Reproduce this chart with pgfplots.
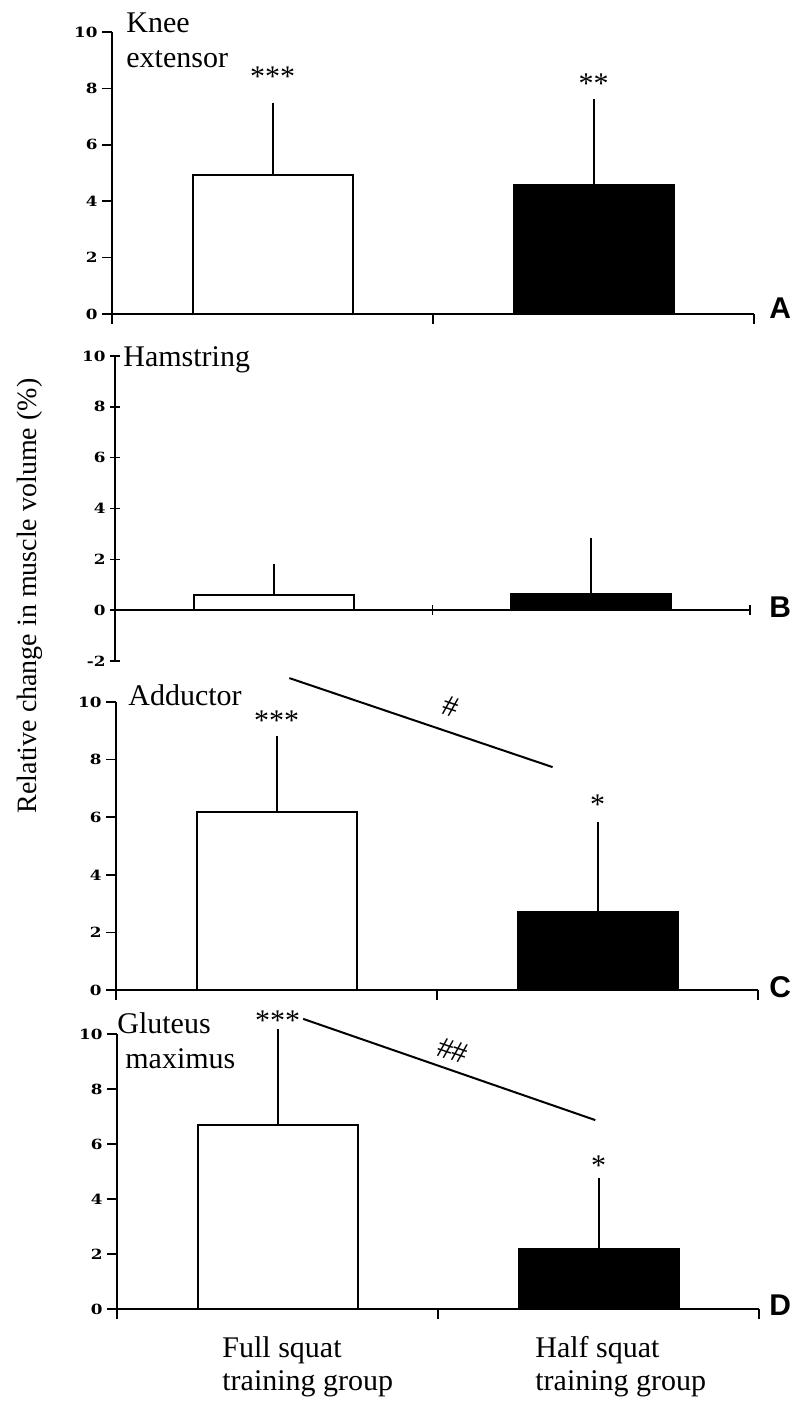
\documentclass[border=0pt]{standalone}
\usepackage{fontspec}
\setmainfont{Liberation Serif}
\newfontfamily\sansfont{Liberation Sans}
\newfontfamily\tickfont{DejaVu Serif}
\usepackage{graphicx}
\usepackage{pgfplots}
\pgfplotsset{compat=1.18}

\pgfplotsset{
 panel/.style={
  scale only axis, width=321pt,
  xmin=0, xmax=2,
  axis lines=left,
  axis line style={-, line width=1pt},
  every inner x axis line/.append style={-},
  every outer x axis line/.append style={-},
  every inner y axis line/.append style={-},
  every outer y axis line/.append style={-},
  xtick={0,1,2}, xticklabels={},
  tick align=outside, major tick length=5pt,
  tick style={line width=0.8pt, black},
  ytick={0,2,...,10},
  /pgf/number format/assume math mode=true,
  yticklabel style={font=\tickfont\bfseries\fontsize{7}{8}\selectfont, inner xsep=2pt},
  yticklabel={\scalebox{1.2}[1]{\pgfmathprintnumber{\tick}}},
  clip=false,
 },
 whitebar/.style={ybar, bar width=80pt, bar shift=0pt, fill=white, draw=black, line width=1pt,
   error bars/.cd, y dir=plus, y explicit, error mark=none, error bar style={line width=1pt}},
 blackbar/.style={ybar, bar width=80pt, bar shift=0pt, fill=black, draw=black, line width=1pt,
   error bars/.cd, y dir=plus, y explicit, error mark=none, error bar style={line width=1pt}},
}
\tikzset{sigtxt/.style={font=\fontsize{15}{15}\selectfont}}

\begin{document}
\begin{tikzpicture}
\useasboundingbox (0,0) rectangle (401.5pt,-701pt);

% Panel A
\begin{axis}[panel, at={(56pt,-157pt)}, anchor=south west, height=141pt, ymin=0, ymax=10]
\addplot[whitebar] coordinates {(0.5,4.92) +- (0,2.55)};
\addplot[blackbar] coordinates {(1.5,4.56) +- (0,3.06)};
\node[sigtxt] at (axis cs:0.5,8.4) {***};
\node[sigtxt] at (axis cs:1.5,8.15) {**};
\end{axis}

% Panel B
\begin{axis}[panel, at={(57.5pt,-330.5pt)}, anchor=south west, width=317.5pt, height=152.5pt, ymin=-2, ymax=10,
  axis x line=middle, axis y line=left, ytick={-2,0,...,10},
  x axis line style={-}, y axis line style={-}]
\addplot[whitebar] coordinates {(0.5,0.59) +- (0,1.21)};
\addplot[blackbar] coordinates {(1.5,0.63) +- (0,2.2)};
\end{axis}

% Panel C
\begin{axis}[panel, at={(58pt,-495pt)}, anchor=south west, height=144pt, ymin=0, ymax=10]
\addplot[whitebar] coordinates {(0.5,6.19) +- (0,2.63)};
\addplot[blackbar] coordinates {(1.5,2.7) +- (0,3.13)};
\addplot[sharp plot, no marks, black, line width=1pt] coordinates {(0.54,10.83) (1.36,7.74)};
\node[sigtxt] at (axis cs:0.5,9.35) {***};
\node[sigtxt] at (axis cs:1.5,6.45) {*};
\node[sigtxt, rotate=-18.7, inner sep=0pt] at (axis cs:1.044,9.85) {\#};
\end{axis}

% Panel D
\begin{axis}[panel, at={(58.5pt,-654.5pt)}, anchor=south west, height=137.5pt, ymin=0, ymax=10]
\addplot[whitebar] coordinates {(0.5,6.69) +- (0,3.49)};
\addplot[blackbar] coordinates {(1.5,2.18) +- (0,2.58)};
\addplot[sharp plot, no marks, black, line width=1pt] coordinates {(0.58,10.55) (1.49,6.87)};
\node[sigtxt] at (axis cs:0.5,10.5) {***};
\node[sigtxt] at (axis cs:1.5,5.2) {*};
\node[sigtxt, rotate=-18.7, inner sep=0pt] at (axis cs:1.047,9.4) {\#\#};
\end{axis}

% Panel titles
\begin{scope}[every node/.style={anchor=base west, inner sep=0pt, font=\fontsize{15}{15}\selectfont}]
\node at (63pt,-16.5pt) {Knee};
\node at (63pt,-34pt) {extensor};
\node at (61.5pt,-183pt) {Hamstring};
\node at (64pt,-352.5pt) {Adductor};
\node at (58.5pt,-516.5pt) {Gluteus};
\node at (62.5pt,-534pt) {maximus};
\node at (111pt,-678.5pt) {Full squat};
\node at (111pt,-695pt) {training group};
\node at (267.5pt,-678.5pt) {Half squat};
\node at (267.5pt,-695pt) {training group};
\end{scope}

% Panel letters
\begin{scope}[every node/.style={anchor=base west, inner sep=0pt, font=\sansfont\bfseries\fontsize{15}{15}\selectfont}]
\node at (384.5pt,-159pt) {A};
\node at (384.5pt,-308.5pt) {B};
\node at (384.5pt,-498.5pt) {C};
\node at (384.5pt,-657.5pt) {D};
\end{scope}

% Y label
\node[rotate=90, font=\fontsize{14}{14}\selectfont] at (15pt,-298pt) {Relative change in muscle volume (\%)};
\end{tikzpicture}
\end{document}
